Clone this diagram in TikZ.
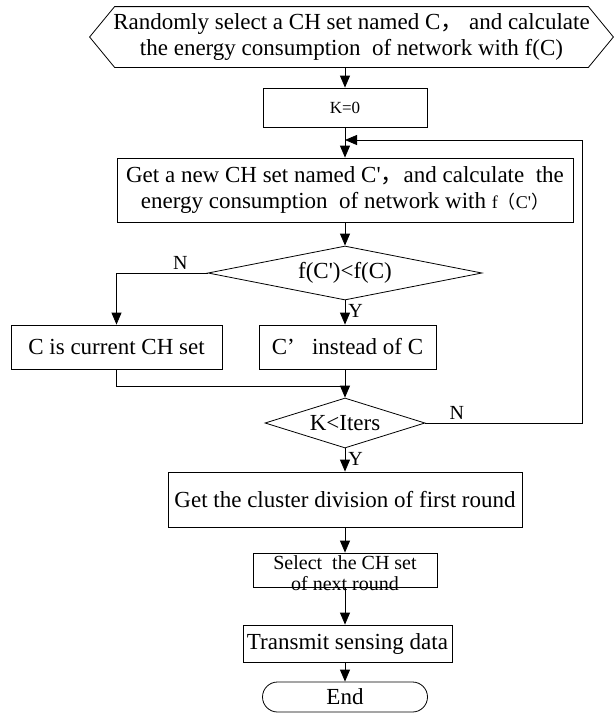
\documentclass[tikz,border=0pt]{standalone}
\usepackage{fontspec}
\setmainfont{Liberation Serif}
\newfontfamily\cjk{Noto Sans CJK SC}
\usetikzlibrary{shapes.geometric,arrows.meta}

\tikzset{
  flow/.style={line width=0.8pt, inner sep=0pt, align=center, font=\fontsize{23}{26}\selectfont},
  procbox/.style={flow, draw, rectangle},
  testbox/.style={flow, draw, diamond},
  arr/.style={line width=0.8pt, -{Triangle[length=12pt,width=10pt]}},
  link/.style={line width=0.8pt},
  yn/.style={font=\fontsize{20}{20}\selectfont, inner sep=3pt}
}

\begin{document}
\begin{tikzpicture}[x=1pt,y=-1pt]
    \useasboundingbox (0,0) rectangle (614,713);

    % start: hexagon
    \node[flow, minimum width=523pt, minimum height=60pt] (start) at (351.5,37)
        {Randomly select a CH set named C{\cjk ，}\ and calculate\\the energy consumption\ \ of network with f(C)};
    \draw[link] (start.west) -- ([xshift=25pt]start.north west) -- ([xshift=-25pt]start.north east)
        -- (start.east) -- ([xshift=-25pt]start.south east) -- ([xshift=25pt]start.south west) -- cycle;

    \node[procbox, minimum width=164pt, minimum height=39pt, font=\fontsize{17}{20}\selectfont] (kzero) at (345,107.5) {K=0};
    \node[procbox, minimum width=456pt, minimum height=64pt] (getnew) at (345,190)
        {Get a new CH set named C\textquotesingle{\cjk ，}and calculate\ \ the\\
         energy consumption\ \ of network with\ {\fontsize{18}{26}\selectfont f{\cjk （}C\textquotesingle{\cjk ）}}};
    \node[testbox, aspect=5, minimum width=274pt, minimum height=54pt] (cmp) at (345,273) {f(C\textquotesingle)<f(C)};
    \node[procbox, minimum width=211pt, minimum height=44pt] (cur) at (116.5,347) {C is current CH set};
    \node[procbox, minimum width=177pt, minimum height=44pt] (swap) at (347.5,347) {C’\ \ \ instead of C};
    \coordinate (join) at (345,386);
    \node[testbox, aspect=3.2, minimum width=160pt, minimum height=50pt] (iter) at (345,423) {K<Iters};
    \coordinate (loopR) at (582,140);
    \node[procbox, minimum width=354pt, minimum height=55pt] (clus) at (345,499.5) {Get the cluster division of first round};
    \node[procbox, minimum width=184pt, minimum height=34pt] (sel) at (345,570) {};
    \node[flow, font=\fontsize{20}{21}\selectfont] (seltext) at (345,573) {Select\ \ the CH set\\of next round};
    \node[procbox, minimum width=209pt, minimum height=37pt] (trans) at (347.5,643.5) {Transmit sensing data};
    \node[procbox, rounded corners=15pt, minimum width=165pt, minimum height=30pt] (finish) at (345,697) {End};

    % connectors
    \draw[arr] (start.south -| kzero.north) -- (kzero.north);
    \draw[arr] (kzero.south) -- (getnew.north);
    \draw[arr] (getnew.south) -- (cmp.north);
    \draw[arr] (cmp.west) -| node[yn, pos=0.15, above] {N} (cur.north);
    \draw[arr] (cmp.south) -- node[yn, pos=0.45, right] {Y} (cmp.south |- swap.north);
    \draw[link] (cur.south) |- (join);
    \draw[arr] (cmp.south |- swap.south) -- (iter.north);
    \draw[arr] (iter.east) -| node[yn, pos=0.1, above] {N} (loopR) -- (loopR -| kzero.south);
    \draw[arr] (iter.south) -- node[yn, pos=0.45, right] {Y} (clus.north);
    \draw[arr] (clus.south) -- (sel.north);
    \draw[arr] (sel.south) -- (sel.south |- trans.north);
    \draw[arr] (sel.south |- trans.south) -- (finish.north);
\end{tikzpicture}
\end{document}
